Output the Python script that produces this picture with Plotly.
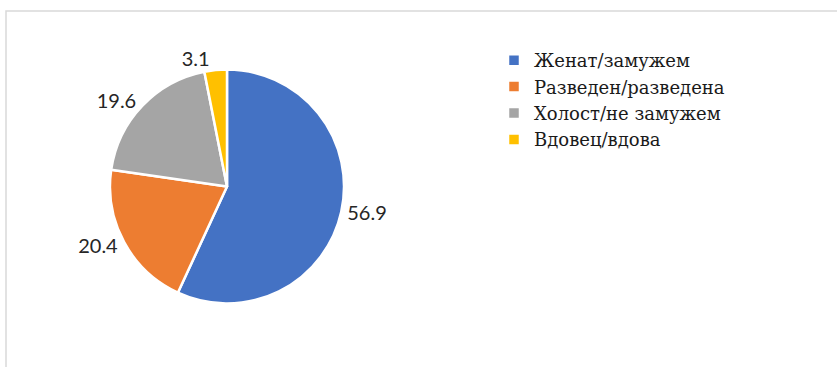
import plotly.graph_objects as go

categories = ["Женат/замужем", "Разведен/разведена", "Холост/не замужем", "Вдовец/вдова"]
values = [56.9, 20.4, 19.6, 3.1]
colors = ["#4472C4", "#ED7D31", "#A5A5A5", "#FFC000"]

W, H = 837, 367
cx, cy, r = 227, 186.5, 117
SERIF = "'DejaVu Serif', 'Liberation Serif', serif"
SANS = "Lato, Carlito, Calibri, sans-serif"

fig = go.Figure(go.Pie(
    labels=categories,
    values=values,
    sort=False,
    direction="clockwise",
    rotation=0,
    marker=dict(colors=colors, line=dict(color="white", width=2.5)),
    texttemplate="%{value}",
    textposition="outside",
    outsidetextfont=dict(family=SANS, size=20, color="#262626"),
    domain=dict(x=[(cx - r) / W, (cx + r) / W], y=[(H - cy - r) / H, (H - cy + r) / H]),
    showlegend=True,
    automargin=False,
))

fig.add_shape(type="rect", xref="paper", yref="paper",
              x0=6 / W, x1=1.05, y0=-0.05, y1=1 - 11 / H,
              line=dict(color="#d9d9d9", width=1.5), fillcolor="rgba(0,0,0,0)", layer="below")

fig.update_layout(
    width=W, height=H,
    margin=dict(l=0, r=0, t=0, b=0),
    paper_bgcolor="white",
    plot_bgcolor="white",
    font=dict(family=SERIF, size=18, color="#222222"),
    legend=dict(x=494 / W, y=1 - 42 / H, xanchor="left", yanchor="top",
                font=dict(family=SERIF, size=18, color="#1a1a1a"),
                itemwidth=30, tracegroupgap=0),
)

fig.write_html("out.html", config={"displayModeBar": False},
               post_script="document.body.style.margin='0';")
